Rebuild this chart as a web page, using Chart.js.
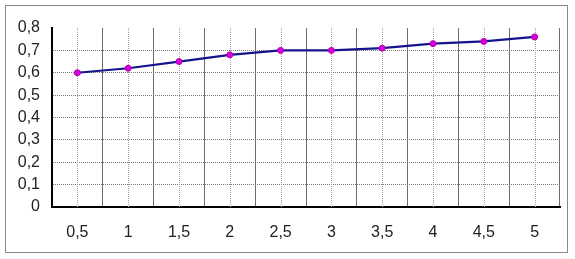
<!DOCTYPE html>
<html>
<head>
<meta charset="utf-8">
<script src="https://cdn.jsdelivr.net/npm/chart.js@4"></script>
<style>
  html, body { margin: 0; padding: 0; background: #fff; }
  #frame { position: absolute; left: 5px; top: 5px; width: 563px; height: 248px; border: 1.5px solid #8a8a8a; box-sizing: border-box; }
  #wrap { position: absolute; left: 0; top: 0; width: 575px; height: 259px; }
</style>
</head>
<body>
<div id="frame"></div>
<div id="wrap"><canvas id="chart" width="575" height="259"></canvas></div>
<script>
// categories (x) and values (y)
var labels = ['0,5', '1', '1,5', '2', '2,5', '3', '3,5', '4', '4,5', '5'];
var values = [0.60, 0.62, 0.65, 0.68, 0.70, 0.70, 0.71, 0.73, 0.74, 0.76];
var yTicks = [0, 0.1, 0.2, 0.3, 0.4, 0.5, 0.6, 0.7, 0.8];

// dotted lines at the centre of each category
var centerLines = {
  id: 'centerLines',
  beforeDatasetsDraw: function (chart) {
    var ctx = chart.ctx;
    var x = chart.scales.x, area = chart.chartArea;
    ctx.save();
    ctx.strokeStyle = '#a0a0a0';
    ctx.lineWidth = 1;
    ctx.setLineDash([1, 1]);
    for (var i = 0; i < labels.length; i++) {
      var px = Math.round(x.getPixelForValue(i)) + 0.5;
      ctx.beginPath();
      ctx.moveTo(px, area.top);
      ctx.lineTo(px, area.bottom);
      ctx.stroke();
    }
    ctx.restore();
  }
};

new Chart(document.getElementById('chart'), {
  type: 'line',
  data: {
    labels: labels,
    datasets: [{
      data: values,
      borderColor: '#14148c',
      borderWidth: 2.2,
      backgroundColor: '#dd00dd',
      pointBackgroundColor: '#dd00dd',
      pointBorderColor: '#b000b0',
      pointBorderWidth: 1,
      pointRadius: 3,
      tension: 0,
      fill: false
    }]
  },
  options: {
    responsive: false,
    animation: false,
    layout: { padding: { left: 0, right: 15, top: 28, bottom: 0 } },
    plugins: { legend: { display: false }, tooltip: { enabled: false } },
    scales: {
      x: {
        offset: true,
        grid: { offset: true, color: '#6e6e6e', lineWidth: 1, drawTicks: false },
        border: { color: '#000', width: 2 },
        ticks: { color: '#222', font: { family: 'Liberation Sans', size: 16 }, padding: 16, maxRotation: 0 },
        afterFit: function (s) { s.height = 52; }
      },
      y: {
        min: 0, max: 0.8,
        afterBuildTicks: function (s) { s.ticks = yTicks.map(function (v) { return { value: v }; }); },
        grid: {
          drawTicks: false,
          color: function (c) { return c.tick && c.tick.value >= 0.75 ? 'rgba(0,0,0,0)' : '#7a7a7a'; },
          lineWidth: 1
        },
        border: { color: '#000', width: 2, dash: [1, 1] },
        ticks: {
          color: '#222', font: { family: 'Liberation Sans', size: 16 }, padding: 12,
          callback: function (v) { return String(Math.round(v * 10) / 10).replace('.', ','); }
        },
        afterFit: function (s) { s.width = 52; }
      }
    }
  },
  plugins: [centerLines]
});
</script>
</body>
</html>
